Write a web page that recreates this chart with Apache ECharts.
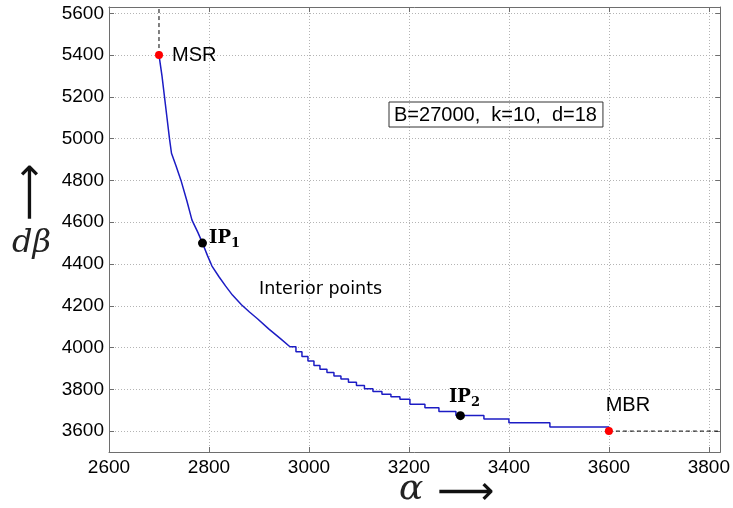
<!DOCTYPE html>
<html><head><meta charset="utf-8">
<script src="https://cdn.jsdelivr.net/npm/echarts@6/dist/echarts.min.js"></script>
<style>html,body{margin:0;padding:0;background:#fff}#c{width:733px;height:508px}</style>
</head><body><div id="c"></div>
<script>
// axis ranges and ticks
const xRange = [2600, 3823];
const yRange = [3500, 5630];
const xTicks = [2600, 2800, 3000, 3200, 3400, 3600, 3800];
const yTicks = [3600, 3800, 4000, 4200, 4400, 4600, 4800, 5000, 5200, 5400, 5600];

// smooth upper part of the tradeoff curve
const curveAlpha = [2700, 2706, 2711, 2716, 2721, 2725, 2734, 2744, 2756, 2766, 2778, 2787, 2797, 2806, 2820, 2833, 2847, 2865, 2881, 2897, 2920, 2943, 2962];
const curveDBeta = [5400, 5300, 5200, 5100, 5000, 4930, 4870, 4800, 4700, 4610, 4550, 4500, 4440, 4390, 4339, 4295, 4251, 4205, 4170, 4138, 4088, 4043, 4004];

// staircase lower part of the curve (step at end of each run)
const stairAlpha = [2962, 2974, 2986, 2998, 3010, 3022, 3036, 3050, 3064, 3079, 3095, 3111, 3128, 3146, 3164, 3182, 3202, 3232, 3260, 3294, 3350, 3400, 3482, 3600];
const stairDBeta = [4004, 3980, 3957, 3935, 3914, 3896, 3880, 3864, 3849, 3834, 3818, 3803, 3789, 3776, 3764, 3752, 3728, 3712, 3694, 3675, 3658, 3640, 3620, 3600];

// extreme points
const endNames = ['MSR', 'MBR'];
const endAlpha = [2700, 3600];
const endDBeta = [5400, 3600];

// interior points
const ipSubs = ['1', '2'];
const ipAlpha = [2787, 3303];
const ipDBeta = [4500, 3674];

const paramText = 'B=27000,  k=10,  d=18';
const regionText = 'Interior points';
const yName = 'dβ';
const xName = 'α';
const arrowGlyph = '⟶';

const zip = (a, b) => a.map((v, i) => [v, b[i]]);
const blue = '#1c1cc4';
const axisCol = '#6e6e6e';

const chart = echarts.init(document.getElementById('c'), null, {renderer: 'canvas'});

const baseX = {
  type: 'value', min: xRange[0], max: xRange[1],
  axisLine: {show: true, onZero: false, lineStyle: {color: axisCol, width: 1}},
  axisTick: {show: true, inside: true, length: 5, customValues: xTicks, lineStyle: {color: axisCol}},
};
const baseY = {
  type: 'value', min: yRange[0], max: yRange[1],
  axisLine: {show: true, onZero: false, lineStyle: {color: axisCol, width: 1}},
  axisTick: {show: true, inside: true, length: 5, customValues: yTicks, lineStyle: {color: axisCol}},
};

const ipRich = {
  a: {fontSize: 18, fontWeight: 'bold', fontFamily: 'DejaVu Serif', color: '#000', lineHeight: 24, verticalAlign: 'middle'},
  s: {fontSize: 13, fontWeight: 'bold', fontFamily: 'DejaVu Serif', color: '#000', lineHeight: 24, verticalAlign: 'bottom'}
};

const option = {
  animation: false,
  backgroundColor: '#fff',
  grid: {left: 109, right: 9, top: 7, bottom: 56, containLabel: false},
  xAxis: [
    Object.assign({}, baseX, {
      position: 'bottom',
      axisLabel: {customValues: xTicks, fontSize: 19, color: '#000', margin: 6, fontFamily: 'Liberation Sans', formatter: v => String(v)},
      splitLine: {show: true, lineStyle: {color: '#b4b4b4', type: [1, 2], width: 1}}
    }),
    Object.assign({}, baseX, {
      position: 'top', axisLabel: {show: false}, splitLine: {show: false}
    })
  ],
  yAxis: [
    Object.assign({}, baseY, {
      position: 'left',
      axisLabel: {customValues: yTicks, fontSize: 19, color: '#000', margin: 5, fontFamily: 'Liberation Sans', formatter: v => String(v)},
      splitLine: {show: true, lineStyle: {color: '#b4b4b4', type: [1, 2], width: 1}}
    }),
    Object.assign({}, baseY, {
      position: 'right', axisLabel: {show: false}, splitLine: {show: false}
    })
  ],
  series: [
    {type: 'line', data: [[endAlpha[0], endDBeta[0]], [endAlpha[0], yRange[1]]], symbol: 'none',
     lineStyle: {color: '#000', width: 1, type: [4, 3]}, z: 3},
    {type: 'line', data: [[endAlpha[1], endDBeta[1]], [xRange[1], endDBeta[1]]], symbol: 'none',
     lineStyle: {color: '#000', width: 1, type: [4, 3]}, z: 3},
    {type: 'line', data: zip(curveAlpha, curveDBeta), symbol: 'none',
     lineStyle: {color: blue, width: 1.5}, z: 4},
    {type: 'line', data: zip(stairAlpha, stairDBeta), symbol: 'none', step: 'end',
     lineStyle: {color: blue, width: 1.5}, z: 4},
    {type: 'scatter', symbolSize: 8, itemStyle: {color: '#ff0000', opacity: 1}, z: 6,
     data: [
       {value: [endAlpha[0], endDBeta[0]], name: endNames[0],
        label: {show: true, position: 'right', distance: 9, formatter: '{b}', fontSize: 20, fontFamily: 'Liberation Sans', color: '#000', opacity: 1}},
       {value: [endAlpha[1], endDBeta[1]], name: endNames[1],
        label: {show: true, position: 'top', distance: 8, offset: [19, -4], formatter: '{b}', fontSize: 20, fontFamily: 'Liberation Sans', color: '#000', opacity: 1}}
     ]},
    {type: 'scatter', symbolSize: 9, itemStyle: {color: '#000', opacity: 1}, z: 6,
     data: [
       {value: [ipAlpha[0], ipDBeta[0]], name: ipSubs[0],
        label: {show: true, position: 'right', distance: 2, offset: [0, -5], formatter: '{a|IP}{s|{b}}', rich: ipRich}},
       {value: [ipAlpha[1], ipDBeta[1]], name: ipSubs[1],
        label: {show: true, position: 'top', distance: 2, offset: [4, 0], formatter: '{a|IP}{s|{b}}', rich: ipRich}}
     ]}
  ],
  graphic: [
    {type: 'text', x: 389, y: 102, z: 10,
     style: {text: paramText, font: '20px "Liberation Sans"', fill: '#000', borderColor: '#333', borderWidth: 1, padding: [3, 6, 2, 5]}},
    {type: 'text', x: 259, y: 280, z: 10,
     style: {text: regionText, font: '17.5px "DejaVu Sans"', fill: '#000'}},
    {type: 'text', x: 12, y: 244, z: 10,
     style: {text: yName, font: 'italic 32px "DejaVu Serif"', fill: '#222', verticalAlign: 'middle'}},
    {type: 'text', x: 32, y: 192, rotation: Math.PI / 2, z: 10,
     style: {text: arrowGlyph, font: '40px "DejaVu Sans"', fill: '#111', align: 'center', verticalAlign: 'middle'}},
    {type: 'text', x: 399, y: 490, z: 10,
     style: {text: xName, font: 'italic 36px "DejaVu Serif"', fill: '#222', verticalAlign: 'middle'}},
    {type: 'text', x: 466, y: 494, z: 10,
     style: {text: arrowGlyph, font: '40px "DejaVu Sans"', fill: '#111', align: 'center', verticalAlign: 'middle'}}
  ]
};
chart.setOption(option);
</script></body></html>
